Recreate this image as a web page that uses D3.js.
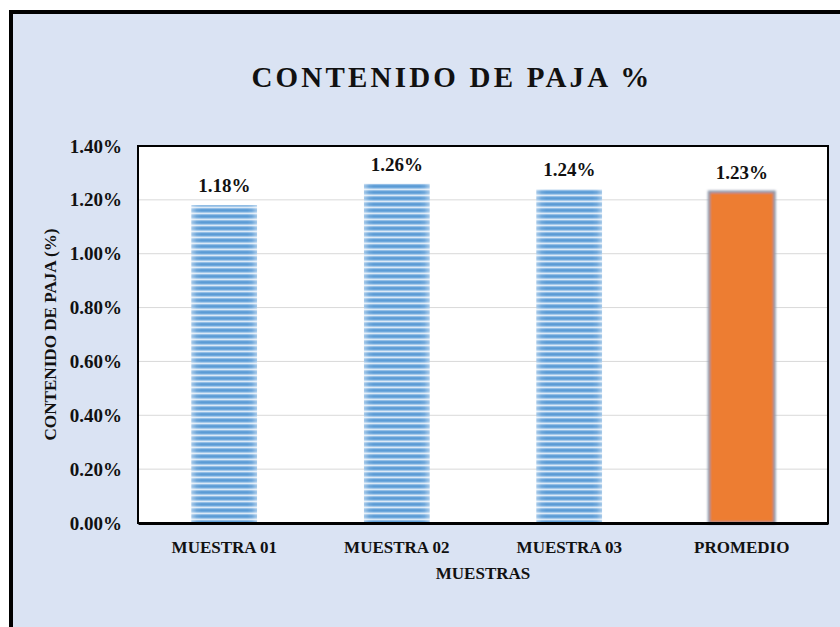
<!DOCTYPE html>
<html>
<head>
<meta charset="utf-8">
<script src="https://cdn.jsdelivr.net/npm/d3@7"></script>
<style>
  body { margin: 0; background: #fff; }
  text { font-family: "Liberation Serif", "DejaVu Serif", serif; font-weight: bold; fill: #111; }
</style>
</head>
<body>
<div id="chart"></div>
<script>
var categories = ["MUESTRA 01", "MUESTRA 02", "MUESTRA 03", "PROMEDIO"];
var values = [0.0118, 0.0126, 0.0124, 0.0123];
var yTicks = [0, 0.002, 0.004, 0.006, 0.008, 0.010, 0.012, 0.014];

var width = 840,
    height = 627,
    plotLeft = 138, plotRight = 828, plotTop = 146, plotBottom = 523;

var svg = d3.select("#chart")
    .append("svg")
    .attr("width", width)
    .attr("height", height);

var defs = svg.append("defs");

// striped blue fill
var pat = defs.append("pattern")
    .attr("id", "stripes")
    .attr("patternUnits", "userSpaceOnUse")
    .attr("width", 10).attr("height", 6);
var stripeCols = ["#5b9bd5", "#6ea8dc", "#a5c9ea", "#dbe9f6", "#93bee6", "#64a1d8"];
stripeCols.forEach(function(c, i) {
    pat.append("rect").attr("x", 0).attr("y", i).attr("width", 10).attr("height", 1).attr("fill", c);
});

var edge = defs.append("linearGradient").attr("id", "softEdge");
[[0, 0.45], [0.08, 0.1], [0.15, 0], [0.85, 0], [0.92, 0.1], [1, 0.45]].forEach(function(s) {
    edge.append("stop").attr("offset", s[0]).attr("stop-color", "#fff").attr("stop-opacity", s[1]);
});

var blur = defs.append("filter").attr("id", "blur");
blur.append("feGaussianBlur").attr("stdDeviation", 0.8);

// chart area
svg.append("rect")
    .attr("x", 11).attr("y", 12)
    .attr("width", 900).attr("height", 700)
    .attr("fill", "#dae3f3")
    .attr("stroke", "#000")
    .attr("stroke-width", 4);

svg.append("text")
    .attr("x", 452).attr("y", 87)
    .attr("text-anchor", "middle")
    .attr("font-size", 29)
    .attr("letter-spacing", 3.2)
    .text("CONTENIDO DE PAJA %");

// plot area
svg.append("rect")
    .attr("x", plotLeft).attr("y", plotTop)
    .attr("width", plotRight - plotLeft).attr("height", plotBottom - plotTop)
    .attr("fill", "#fff");

var x = d3.scaleBand()
    .domain(categories)
    .range([plotLeft, plotRight])
    .paddingInner(0.62)
    .paddingOuter(0.31);

var y = d3.scaleLinear()
    .domain([0, 0.014])
    .range([plotBottom, plotTop]);

svg.append("g")
    .selectAll("line")
    .data(yTicks.slice(1, -1)).enter()
    .append("line")
    .attr("x1", plotLeft).attr("x2", plotRight)
    .attr("y1", function(d) { return y(d); })
    .attr("y2", function(d) { return y(d); })
    .attr("stroke", "#d9d9d9")
    .attr("stroke-width", 1);

var bars = svg.append("g")
    .selectAll("g")
    .data(categories).enter()
    .append("g");

bars.append("rect")
    .attr("x", function(d) { return x(d); })
    .attr("y", function(d, i) { return y(values[i]); })
    .attr("width", x.bandwidth())
    .attr("height", function(d, i) { return y(0) - y(values[i]); })
    .attr("fill", function(d, i) { return i < 3 ? "url(#stripes)" : "#ed7d31"; })
    .attr("stroke", function(d, i) { return i < 3 ? "none" : "#8d98ab"; })
    .attr("stroke-width", 2.5)
    .attr("filter", function(d, i) { return i < 3 ? null : "url(#blur)"; });

bars.filter(function(d, i) { return i < 3; })
    .append("rect")
    .attr("x", function(d) { return x(d); })
    .attr("y", function(d) { return y(values[categories.indexOf(d)]); })
    .attr("width", x.bandwidth())
    .attr("height", function(d) { return y(0) - y(values[categories.indexOf(d)]); })
    .attr("fill", "url(#softEdge)");

bars.append("text")
    .attr("x", function(d) { return x(d) + x.bandwidth() / 2; })
    .attr("y", function(d, i) { return y(values[i]) - 13; })
    .attr("text-anchor", "middle")
    .attr("font-size", 19)
    .text(function(d, i) { return d3.format(".2%")(values[i]); });

// plot border
svg.append("rect")
    .attr("x", plotLeft).attr("y", plotTop)
    .attr("width", plotRight - plotLeft).attr("height", plotBottom - plotTop)
    .attr("fill", "none")
    .attr("stroke", "#000")
    .attr("stroke-width", 2);

var yAxis = svg.append("g")
    .attr("transform", "translate(" + plotLeft + ",0)")
    .call(d3.axisLeft(y).tickValues(yTicks).tickFormat(d3.format(".2%")).tickSize(0).tickPadding(16));
yAxis.select(".domain").remove();
yAxis.selectAll("text")
    .attr("font-size", 19)
    .attr("font-family", "Liberation Serif")
    .attr("font-weight", "bold")
    .attr("fill", "#111");

var xAxis = svg.append("g")
    .attr("transform", "translate(0," + plotBottom + ")")
    .call(d3.axisBottom(x).tickSize(0).tickPadding(18));
xAxis.select(".domain")
    .attr("stroke", "#000")
    .attr("stroke-width", 3);
xAxis.selectAll("text")
    .attr("font-size", 17)
    .attr("font-family", "Liberation Serif")
    .attr("font-weight", "bold")
    .attr("fill", "#111");

svg.append("text")
    .attr("x", (plotLeft + plotRight) / 2).attr("y", 579)
    .attr("text-anchor", "middle")
    .attr("font-size", 17)
    .text("MUESTRAS");

svg.append("text")
    .attr("transform", "translate(56," + (plotTop + plotBottom) / 2 + ") rotate(-90)")
    .attr("text-anchor", "middle")
    .attr("font-size", 17)
    .attr("textLength", 212)
    .attr("lengthAdjust", "spacingAndGlyphs")
    .text("CONTENIDO DE PAJA (%)");
</script>
</body>
</html>
